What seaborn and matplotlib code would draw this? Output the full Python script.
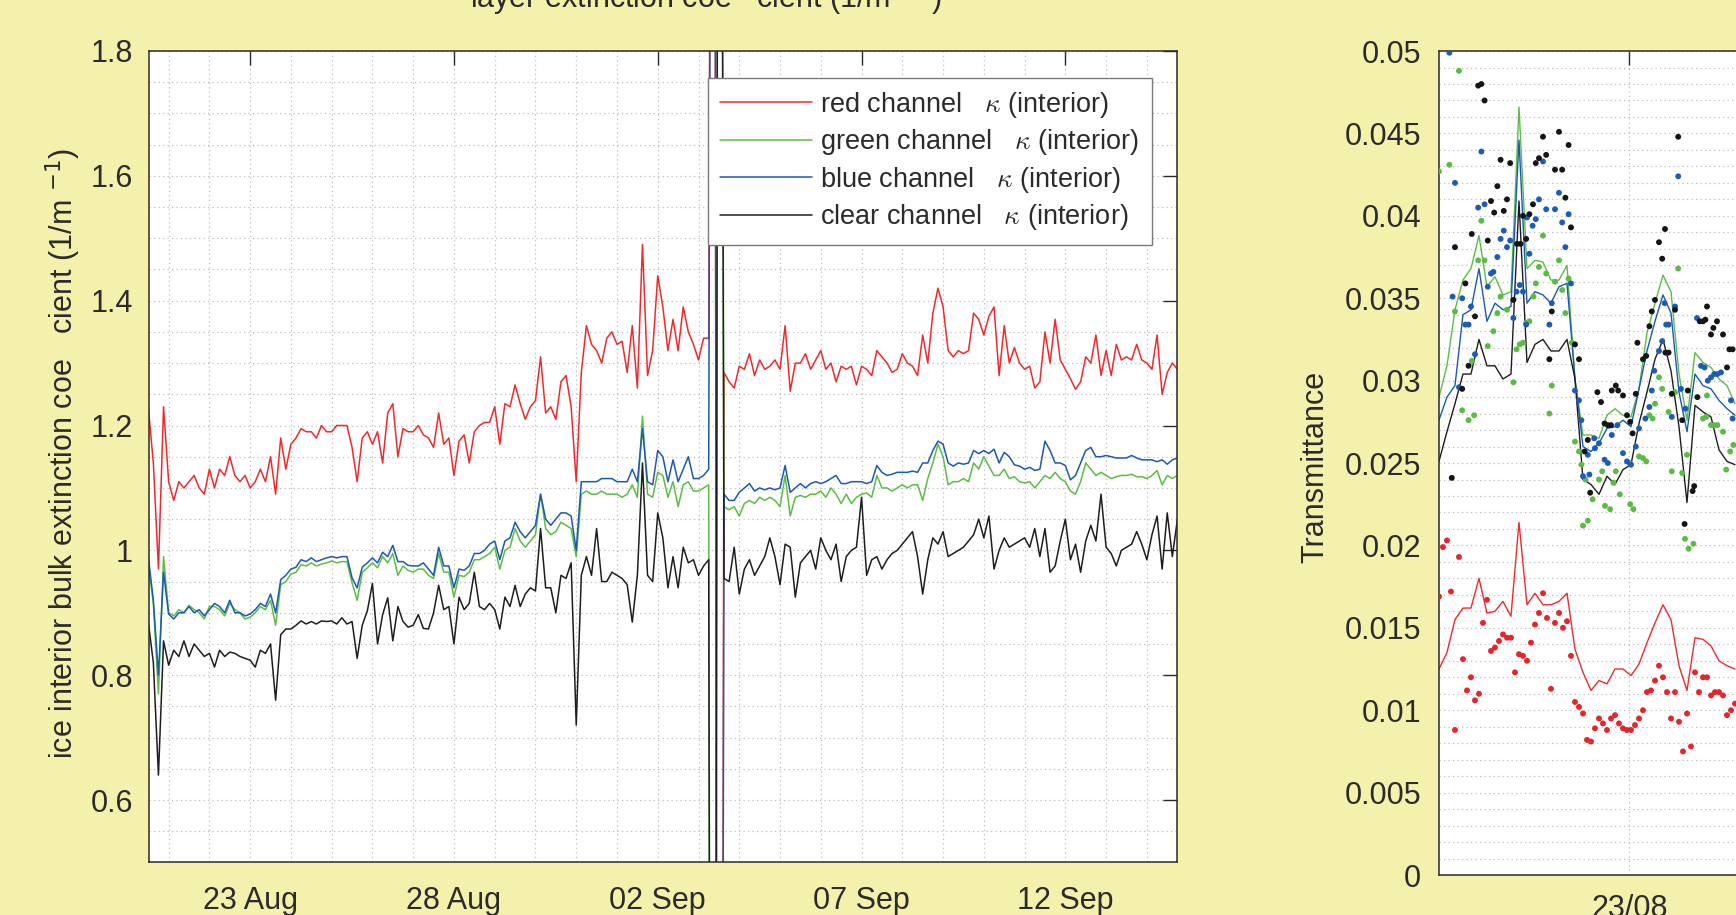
import numpy as np
import pandas as pd
import matplotlib
matplotlib.use("Agg")
import matplotlib.pyplot as plt
import matplotlib.dates as mdates
from matplotlib.ticker import MultipleLocator, FixedLocator, FuncFormatter, NullLocator
import seaborn as sns

# ------------------------------------------------------------------
# LEFT PANEL DATA : ice interior bulk extinction coefficient, 3-hourly
# ------------------------------------------------------------------
left_start = "2018-08-20 12:00"
left_step = "3h"

red_kappa = [
    1.23, 1.14, 0.97, 1.23,
    1.11, 1.08, 1.11, 1.10, 1.11, 1.12, 1.10, 1.09,
    1.13, 1.10, 1.13, 1.12, 1.15, 1.12, 1.11, 1.12,
    1.10, 1.11, 1.13, 1.11, 1.15, 1.09, 1.18, 1.13,
    1.17, 1.18, 1.195, 1.19, 1.19, 1.18, 1.20, 1.19,
    1.19, 1.20, 1.20, 1.20, 1.165, 1.11, 1.18, 1.19,
    1.17, 1.19, 1.14, 1.22, 1.235, 1.15, 1.195, 1.19,
    1.19, 1.20, 1.185, 1.18, 1.165, 1.22, 1.17, 1.18,
    1.12, 1.175, 1.185, 1.14, 1.19, 1.20, 1.205, 1.205,
    1.23, 1.17, 1.235, 1.23, 1.265, 1.235, 1.21, 1.23,
    1.24, 1.31, 1.22, 1.23, 1.21, 1.27, 1.28, 1.23,
    1.11, 1.285, 1.36, 1.33, 1.32, 1.30, 1.34, 1.35,
    1.33, 1.335, 1.285, 1.36, 1.26, 1.49, 1.28, 1.32,
    1.44, 1.39, 1.32, 1.37, 1.32, 1.39, 1.35, 1.33,
    1.305, 1.34, 1.34, 4.0, -3.0, 1.285, 1.27, 1.26,
    1.295, 1.29, 1.315, 1.28, 1.305, 1.29, 1.295, 1.305,
    1.29, 1.36, 1.255, 1.30, 1.30, 1.315, 1.29, 1.305,
    1.32, 1.29, 1.30, 1.27, 1.295, 1.29, 1.295, 1.265,
    1.295, 1.29, 1.28, 1.32, 1.31, 1.30, 1.285, 1.29,
    1.315, 1.30, 1.295, 1.28, 1.345, 1.30, 1.38, 1.42,
    1.39, 1.32, 1.31, 1.32, 1.315, 1.32, 1.38, 1.37,
    1.345, 1.375, 1.39, 1.28, 1.36, 1.30, 1.325, 1.30,
    1.29, 1.295, 1.26, 1.27, 1.35, 1.30, 1.37, 1.305,
    1.29, 1.275, 1.258, 1.27, 1.31, 1.30, 1.345, 1.28,
    1.32, 1.28, 1.33, 1.305, 1.31, 1.305, 1.33, 1.305,
    1.30, 1.29, 1.345, 1.25, 1.285, 1.30, 1.29,
]

green_kappa = [
    0.98, 0.915, 0.77, 0.99,
    0.90, 0.895, 0.905, 0.90, 0.912, 0.905, 0.90, 0.89,
    0.91, 0.91, 0.905, 0.895, 0.915, 0.905, 0.90, 0.89,
    0.893, 0.90, 0.91, 0.905, 0.92, 0.88, 0.945, 0.95,
    0.962, 0.965, 0.977, 0.975, 0.98, 0.975, 0.978, 0.98,
    0.983, 0.98, 0.982, 0.982, 0.948, 0.92, 0.965, 0.972,
    0.98, 0.972, 0.99, 0.98, 0.995, 0.96, 0.975, 0.968,
    0.965, 0.97, 0.97, 0.96, 0.955, 0.995, 0.965, 0.965,
    0.925, 0.96, 0.958, 0.965, 0.985, 0.985, 0.99, 0.995,
    1.005, 0.97, 1.0, 1.005, 1.035, 1.015, 1.005, 1.015,
    1.025, 1.09, 1.035, 1.025, 1.03, 1.045, 1.04, 1.035,
    0.99, 1.09, 1.095, 1.09, 1.09, 1.095, 1.09, 1.09,
    1.09, 1.085, 1.09, 1.105, 1.085, 1.215, 1.09, 1.085,
    1.125, 1.12, 1.085, 1.11, 1.07, 1.105, 1.11, 1.095,
    1.095, 1.10, 1.105, -3.0, 4.0, 1.07, 1.065, 1.07,
    1.055, 1.075, 1.08, 1.075, 1.085, 1.08, 1.085, 1.08,
    1.07, 1.12, 1.055, 1.085, 1.088, 1.085, 1.09, 1.09,
    1.095, 1.085, 1.10, 1.09, 1.075, 1.09, 1.075, 1.085,
    1.09, 1.092, 1.085, 1.12, 1.10, 1.10, 1.095, 1.10,
    1.105, 1.10, 1.105, 1.105, 1.08, 1.115, 1.14, 1.17,
    1.15, 1.105, 1.11, 1.11, 1.115, 1.11, 1.14, 1.13,
    1.15, 1.135, 1.12, 1.12, 1.13, 1.115, 1.118, 1.11,
    1.108, 1.11, 1.10, 1.11, 1.12, 1.115, 1.125, 1.115,
    1.11, 1.095, 1.09, 1.11, 1.14, 1.13, 1.12, 1.125,
    1.12, 1.115, 1.118, 1.12, 1.12, 1.122, 1.118, 1.118,
    1.115, 1.12, 1.128, 1.105, 1.12, 1.115, 1.12,
]

blue_kappa = [
    0.99, 0.92, 0.80, 0.965,
    0.898, 0.89, 0.90, 0.90, 0.91, 0.90, 0.905, 0.895,
    0.905, 0.915, 0.91, 0.90, 0.92, 0.90, 0.90, 0.895,
    0.898, 0.905, 0.915, 0.91, 0.93, 0.90, 0.953, 0.96,
    0.97, 0.973, 0.985, 0.982, 0.988, 0.982, 0.985, 0.988,
    0.99, 0.988, 0.99, 0.99, 0.956, 0.94, 0.973, 0.98,
    0.988, 0.98, 0.997, 0.99, 1.008, 0.982, 0.982, 0.976,
    0.975, 0.975, 0.98, 0.97, 0.96, 1.005, 0.975, 0.975,
    0.94, 0.97, 0.968, 0.975, 0.995, 0.995, 1.0, 1.01,
    1.015, 0.985, 1.015, 1.02, 1.045, 1.03, 1.02, 1.03,
    1.04, 1.09, 1.05, 1.04, 1.05, 1.06, 1.06, 1.055,
    1.0, 1.11, 1.11, 1.11, 1.11, 1.115, 1.115, 1.115,
    1.11, 1.11, 1.11, 1.13, 1.11, 1.195, 1.11, 1.105,
    1.16, 1.15, 1.11, 1.145, 1.11, 1.13, 1.15, 1.115,
    1.115, 1.12, 1.13, 4.0, -3.0, 1.09, 1.08, 1.08,
    1.093, 1.10, 1.107, 1.095, 1.10, 1.097, 1.10, 1.097,
    1.10, 1.136, 1.093, 1.10, 1.107, 1.10, 1.107, 1.11,
    1.107, 1.11, 1.115, 1.12, 1.107, 1.107, 1.11, 1.11,
    1.11, 1.107, 1.11, 1.136, 1.125, 1.12, 1.122, 1.125,
    1.125, 1.125, 1.127, 1.125, 1.14, 1.14, 1.16, 1.175,
    1.17, 1.14, 1.135, 1.14, 1.138, 1.14, 1.16, 1.155,
    1.16, 1.155, 1.162, 1.14, 1.157, 1.15, 1.137, 1.135,
    1.13, 1.133, 1.128, 1.13, 1.175, 1.16, 1.14, 1.14,
    1.136, 1.113, 1.12, 1.14, 1.16, 1.165, 1.15, 1.15,
    1.152, 1.15, 1.148, 1.148, 1.148, 1.152, 1.148, 1.145,
    1.145, 1.145, 1.142, 1.145, 1.138, 1.145, 1.148,
]

clear_kappa = [
    0.886, 0.82, 0.64, 0.855,
    0.816, 0.84, 0.83, 0.855, 0.83, 0.85, 0.84, 0.83,
    0.835, 0.813, 0.84, 0.83, 0.837, 0.835, 0.83, 0.827,
    0.824, 0.813, 0.84, 0.835, 0.85, 0.76, 0.865, 0.874,
    0.874, 0.88, 0.887, 0.882, 0.886, 0.882, 0.887, 0.886,
    0.887, 0.882, 0.892, 0.882, 0.886, 0.827, 0.88, 0.903,
    0.947, 0.85, 0.897, 0.924, 0.855, 0.91, 0.886, 0.877,
    0.88, 0.897, 0.875, 0.874, 0.90, 0.944, 0.905, 0.91,
    0.85, 0.925, 0.905, 0.915, 0.965, 0.91, 0.905, 0.915,
    0.905, 0.874, 0.925, 0.91, 0.944, 0.91, 0.93, 0.94,
    0.935, 1.035, 0.94, 0.94, 0.90, 0.96, 0.955, 0.98,
    0.72, 0.96, 0.99, 0.96, 1.035, 0.95, 0.95, 0.965,
    0.96, 0.955, 0.945, 0.885, 0.96, 1.14, 0.96, 0.95,
    1.06, 1.02, 0.94, 0.99, 0.94, 1.005, 0.98, 0.985,
    0.96, 0.975, 0.985, -3.0, 4.0, 0.955, 0.95, 1.005,
    0.93, 0.97, 0.985, 0.96, 0.975, 0.99, 1.02, 0.99,
    0.945, 1.01, 1.005, 0.925, 0.98, 0.99, 1.0, 0.97,
    1.02, 1.0, 0.985, 1.01, 0.95, 0.99, 1.0, 1.005,
    1.085, 0.96, 0.985, 0.99, 0.97, 0.985, 0.995, 1.0,
    1.01, 1.02, 1.03, 0.99, 0.93, 0.985, 1.02, 1.01,
    1.03, 0.99, 0.995, 1.0, 1.005, 1.015, 1.025, 1.05,
    1.02, 1.055, 0.97, 1.0, 1.02, 1.005, 1.01, 1.015,
    1.02, 1.005, 1.035, 0.99, 1.035, 0.965, 0.975, 1.015,
    1.05, 0.985, 1.01, 0.965, 1.015, 1.04, 1.015, 1.09,
    1.005, 0.995, 0.975, 1.0, 1.005, 1.01, 1.03, 1.01,
    0.985, 1.025, 1.055, 0.97, 1.06, 0.99, 1.05,
]

left_labels = [
    r"red channel   $\kappa$ (interior)",
    r"green channel   $\kappa$ (interior)",
    r"blue channel   $\kappa$ (interior)",
    r"clear channel   $\kappa$ (interior)",
]
left_xticks = ["2018-08-23", "2018-08-28", "2018-09-02", "2018-09-07", "2018-09-12"]
left_xlim = ["2018-08-20 12:43", "2018-09-14 17:45"]
left_ylim = [0.5, 1.8]

# ------------------------------------------------------------------
# RIGHT PANEL DATA : transmittance, hourly lines and measured dots
# ------------------------------------------------------------------
right_start = "2018-08-22 00:12"
right_xticks = ["2018-08-23"]
red_T_line = [.0125, .0135, .0155, .0162, .0162, .018, .0159, .016, .0166, .0157,
              .0214, .0164, .0171, .0164, .0164, .0166, .0171, .0137, .0123, .0112,
              .0118, .0116, .0125, .0125, .0121, .0128, .0141, .0153, .0164, .0155,
              .0127, .0112, .0144, .0143, .0139, .013, .0127, .0125]
green_T_line = [.029, .0309, .0343, .0361, .0368, .0388, .0357, .0363, .0352, .0354,
                .0466, .0368, .0373, .0372, .0361, .0361, .037, .0301, .0267, .0267,
                .0265, .0279, .0283, .0279, .0278, .0295, .0329, .0347, .0364, .0354,
                .0304, .0276, .0317, .0311, .0308, .0301, .0297, .0286]
blue_T_line = [.0276, .029, .0297, .034, .0343, .0368, .0336, .0347, .0343, .0345,
               .0446, .0347, .0354, .0352, .0347, .0357, .0359, .0301, .026, .0257,
               .0262, .0271, .0272, .0276, .0272, .0295, .0318, .0336, .0352, .0341,
               .0293, .0269, .0304, .0297, .0295, .0288, .0283, .0279]
clear_T_line = [.0251, .0269, .0286, .0304, .0304, .0325, .0309, .0309, .0301, .0304,
                .0409, .0311, .0322, .0325, .0318, .0318, .0325, .0301, .024, .0237,
                .0231, .0242, .0237, .0246, .0249, .0274, .0293, .0313, .0325, .0306,
                .0272, .0226, .0285, .0281, .0278, .0258, .0251, .0249]

red_T_dots = [.0169, .0199, .0203, .0172, .0088, .0193, .0131, .0112, .0120, .0106,
              .0110, .0153, .0167, .0136, .0138, .0142, .0146, .0144, .0144, .0123,
              .0134, .0133, .0130, .0141, .0152, .0159, .0171, .0156, .0113, .0153,
              .0159, .0150, .0154, .0133, .0105, .0102, .0098, .0082, .0081, .0089,
              .0095, .0092, .0088, .0095, .0097, .0092, .0089, .0088, .0088, .0091,
              .0095, .0100, .0111, .0112, .0118, .0127, .0120, .0111, .0095, .0111,
              .0093, .0075, .0098, .0078, .0123, .0111, .0120, .0120, .0109, .0111,
              .0111, .0109, .0097, .0100, .0104]
red_T_dot_hours = [0.5 * k for k in range(len(red_T_dots))]

green_T_dot_hours = [0.0, 1.3, 2.0, 2.5, 2.9, 3.7, 4.1, 4.4, 4.9, 5.3, 5.7, 6.1, 6.8, 7.3,
                     7.7, 8.5, 9.3, 9.7, 10.1, 10.5, 10.9, 11.3, 11.8, 12.1, 12.5, 13.0,
                     13.4, 13.8, 14.1, 14.5, 15.0, 15.4, 15.8, 16.2, 16.6, 17.0, 17.5,
                     17.8, 18.0, 18.3, 18.6, 19.2, 20.0, 20.4, 20.75, 21.4, 21.8, 22.1,
                     22.6, 23.8, 23.9, 24.3, 25.0, 25.5, 25.9, 26.3, 26.7, 27.0, 27.5,
                     27.9, 28.7, 29.1, 29.5, 29.9, 30.4, 30.75, 31.0, 31.2, 31.8, 33.0,
                     33.4, 33.5, 34.0, 34.4, 34.8, 35.5, 35.9, 36.4, 36.8]
green_T_dots = [.0427, .0431, .0342, .0488, .0282, .0276, .0312, .0279, .0373, .0397,
                .0373, .0321, .0330, .0341, .0351, .0343, .0299, .0319, .0322, .0323,
                .0335, .0336, .0351, .0359, .0369, .0388, .0365, .0280, .0297, .0360,
                .0373, .0355, .0341, .0362, .0323, .0263, .0257, .0249, .0212, .0240,
                .0215, .0228, .0240, .0245, .0224, .0222, .0238, .0245, .0231, .0250,
                .0225, .0222, .0254, .0253, .0251, .0279, .0277, .0286, .0302, .0295,
                .0281, .0245, .0293, .0368, .0244, .0204, .0255, .0198, .0201, .0277,
                .0278, .0291, .0273, .0273, .0273, .0269, .0246, .0257, .0261]

blue_T_dot_hours = [1.3, 1.7, 2.0, 2.5, 2.9, 3.3, 3.7, 4.0, 4.5, 4.9, 5.3, 5.7, 6.1, 6.5,
                    6.8, 7.3, 7.7, 8.1, 8.5, 8.9, 9.3, 9.7, 10.1, 10.5, 10.9, 11.0, 11.3,
                    11.7, 12.1, 12.5, 13.0, 13.4, 13.8, 14.1, 14.5, 15.0, 15.4, 15.8,
                    16.2, 16.5, 17.0, 17.5, 17.8, 18.0, 18.6, 18.8, 19.4, 19.5, 20.0,
                    20.7, 21.1, 21.6, 22.3, 23.0, 23.5, 24.0, 24.6, 25.0, 25.8, 26.3,
                    26.6, 26.9, 27.5, 27.9, 28.2, 28.4, 28.7, 29.1, 29.5, 29.9, 30.25,
                    30.8, 32.25, 32.75, 33.2, 33.6, 34.0, 34.4, 34.8, 35.25, 36.5, 36.7]
blue_T_dots = [.0499, .0351, .0420, .0296, .0350, .0334, .0334, .0345, .0316, .0405,
               .0439, .0407, .0357, .0365, .0366, .0375, .0386, .0391, .0381, .0385,
               .0338, .0354, .0358, .0354, .0334, .0399, .0377, .0394, .0398, .0410,
               .0433, .0404, .0334, .0347, .0404, .0414, .0396, .0381, .0401, .0359,
               .0294, .0288, .0276, .0242, .0255, .0243, .0265, .0259, .0262, .0252,
               .0250, .0267, .0273, .0256, .0251, .0249, .0260, .0271, .0277, .0284,
               .0294, .0306, .0318, .0324, .0347, .0334, .0334, .0278, .0345, .0424,
               .0295, .0283, .0338, .0309, .0308, .0300, .0302, .0304, .0304, .0305,
               .0288, .0277]

clear_T_dot_hours = [1.6, 2.0, 2.9, 3.3, 3.7, 4.1, 4.5, 4.9, 5.3, 5.7, 6.1, 6.5, 6.9, 7.3,
                     7.7, 8.1, 8.5, 8.9, 9.3, 9.75, 10.2, 10.5, 10.9, 11.3, 11.75, 12.1,
                     12.5, 13.0, 13.4, 13.8, 14.1, 14.5, 15.0, 15.4, 15.8, 16.2, 16.5,
                     17.0, 17.5, 18.2, 18.6, 18.9, 19.8, 20.25, 20.7, 21.1, 21.5, 21.6,
                     22.1, 22.4, 23.0, 23.5, 23.9, 24.2, 24.6, 24.8, 25.5, 25.9, 26.3,
                     26.6, 27.0, 27.5, 27.9, 28.25, 28.3, 28.7, 29.1, 29.5, 29.9, 30.4,
                     30.7, 31.1, 31.7, 31.9, 32.3, 32.6, 33.0, 33.3, 33.5, 34.0, 34.3,
                     34.75, 35.5, 36.0, 36.3, 36.7]
clear_T_dots = [.0241, .0381, .0295, .0359, .0309, .0389, .0339, .0479, .0480, .0470,
                .0385, .0409, .0402, .0418, .0434, .0403, .0410, .0432, .0349, .0383,
                .0383, .0400, .0386, .0401, .0407, .0432, .0435, .0448, .0437, .0313,
                .0342, .0428, .0451, .0428, .0411, .0443, .0393, .0322, .0313, .0257,
                .0264, .0232, .0293, .0287, .0274, .0273, .0273, .0294, .0297, .0294,
                .0291, .0279, .0275, .0268, .0292, .0323, .0313, .0315, .0333, .0342,
                .0349, .0384, .0374, .0392, .0317, .0317, .0292, .0343, .0448, .0276,
                .0213, .0294, .0233, .0236, .0290, .0336, .0336, .0337, .0345, .0328,
                .0332, .0336, .0328, .0308, .0319, .0319]

right_channels = ["red", "green", "blue", "clear"]
right_xlim_hours = [0.0, 80.5]
right_ylim = [0.0, 0.05]

# ------------------------------------------------------------------
# STYLE
# ------------------------------------------------------------------
BG = "#f4f1ad"
TXT = "#2b2b2b"
GRID = "#bdbdbd"
line_colors = ["#ee2b2b", "#5cbd45", "#1b59b3", "#1e1e1e"]
dot_colors = ["#e8232a", "#5cbb44", "#1c5cb7", "#151515"]

sns.set_theme(style="white")
plt.rcParams["font.family"] = ["Liberation Sans", "DejaVu Sans"]
plt.rcParams["text.color"] = TXT
plt.rcParams["axes.labelcolor"] = TXT
plt.rcParams["xtick.color"] = TXT
plt.rcParams["ytick.color"] = TXT

fig = plt.figure(figsize=(17.36, 9.15), dpi=100, facecolor=BG)
ax = fig.add_axes([0.0861, 0.0574, 0.5919, 0.8869])
ax2 = fig.add_axes([0.8289, 0.0437, 0.3710, 0.9005])

# ----------------------------- left panel -------------------------
frames = []
for lab, vals in zip(left_labels, [red_kappa, green_kappa, blue_kappa, clear_kappa]):
    t = pd.date_range(left_start, periods=len(vals), freq=left_step)
    frames.append(pd.DataFrame({"time": t, "kappa": vals, "channel": lab}))
left_df = pd.concat(frames, ignore_index=True)

sns.lineplot(data=left_df, x="time", y="kappa", hue="channel", hue_order=left_labels,
             palette=dict(zip(left_labels, line_colors)), linewidth=1.1,
             estimator=None, sort=False, ax=ax)

ax.set_xlim(pd.Timestamp(left_xlim[0]), pd.Timestamp(left_xlim[1]))
ax.set_ylim(*left_ylim)
ax.set_xlabel("")
ax.set_ylabel("")
ax.set_facecolor("white")
ax.xaxis.set_major_locator(FixedLocator(mdates.date2num(pd.to_datetime(left_xticks))))
ax.xaxis.set_major_formatter(mdates.DateFormatter("%d %b"))
ax.xaxis.set_minor_locator(mdates.DayLocator())
ax.yaxis.set_major_locator(MultipleLocator(0.2))
ax.yaxis.set_minor_locator(MultipleLocator(0.05))
ax.yaxis.set_major_formatter(FuncFormatter(lambda v, p: "%g" % round(v, 3)))

for a in (ax, ax2):
    a.grid(which="major", linestyle=(0, (1, 2.6)), color=GRID, linewidth=0.9)
    for s in a.spines.values():
        s.set_color(TXT)
        s.set_linewidth(1.1)
    a.tick_params(which="major", direction="in", length=10, width=1.0, top=True,
                  right=True, labelsize=22, colors=TXT)
    a.tick_params(which="minor", length=0)
    a.set_axisbelow(True)
ax.grid(which="minor", linestyle=(0, (1, 2.6)), color=GRID, linewidth=0.9)
ax.tick_params(axis="x", pad=17)
ax.tick_params(axis="y", pad=12)

h, l = ax.get_legend_handles_labels()
leg = ax.legend(h, l, loc="upper right", bbox_to_anchor=(0.9752, 0.9673),
                borderaxespad=0, fontsize=19.5, frameon=True, fancybox=False,
                framealpha=1, edgecolor="#7a7a7a", handlelength=3.4,
                handletextpad=0.3, labelspacing=0.28, borderpad=0.45)
leg.get_frame().set_linewidth(1.0)
for txt in leg.get_texts():
    txt.set_math_fontfamily("cm")
    txt.set_color(TXT)
for lh in leg.get_lines():
    lh.set_linewidth(1.1)

fig.text(63 / 1736, 1 - 454 / 915,
         r"ice interior bulk extinction coe   cient (1/m $^{-1}$)",
         rotation=90, ha="center", va="center", fontsize=22, color=TXT)
fig.text(706 / 1736, 1 - 8 / 915,
         r"layer extinction coe   cient (1/m $^{-1}$)",
         ha="center", va="baseline", fontsize=22, color=TXT)

# ----------------------------- right panel ------------------------
base = pd.Timestamp(right_start)
lf, df_ = [], []
for ch, vals in zip(right_channels, [red_T_line, green_T_line, blue_T_line, clear_T_line]):
    lf.append(pd.DataFrame({"time": base + pd.to_timedelta(np.arange(len(vals)), unit="h"),
                            "T": vals, "ch": ch}))
for ch, hrs, vals in zip(right_channels,
                         [red_T_dot_hours, green_T_dot_hours, blue_T_dot_hours, clear_T_dot_hours],
                         [red_T_dots, green_T_dots, blue_T_dots, clear_T_dots]):
    n = min(len(hrs), len(vals))
    df_.append(pd.DataFrame({"time": base + pd.to_timedelta(np.array(hrs[:n]), unit="h"),
                             "T": vals[:n], "ch": ch}))
rline = pd.concat(lf, ignore_index=True)
rdots = pd.concat(df_, ignore_index=True)

sns.lineplot(data=rline, x="time", y="T", hue="ch", hue_order=right_channels,
             palette=dict(zip(right_channels, line_colors)), linewidth=1.0,
             estimator=None, sort=False, legend=False, ax=ax2)
sns.scatterplot(data=rdots, x="time", y="T", hue="ch", hue_order=right_channels,
                palette=dict(zip(right_channels, dot_colors)), s=18, linewidth=0,
                legend=False, ax=ax2, zorder=3)

ax2.set_xlim(base + pd.Timedelta(hours=right_xlim_hours[0]),
             base + pd.Timedelta(hours=right_xlim_hours[1]))
ax2.set_ylim(*right_ylim)
ax2.set_xlabel("")
ax2.set_ylabel("")
ax2.set_facecolor("white")
ax2.xaxis.set_major_locator(FixedLocator(mdates.date2num(pd.to_datetime(right_xticks))))
ax2.xaxis.set_major_formatter(mdates.DateFormatter("%d/%m"))
ax2.xaxis.set_minor_locator(NullLocator())
ax2.yaxis.set_major_locator(MultipleLocator(0.005))
ax2.yaxis.set_minor_locator(MultipleLocator(0.001))
ax2.yaxis.set_major_formatter(FuncFormatter(lambda v, p: "%g" % round(v, 4)))
ax2.grid(which="minor", axis="y", linestyle=(0, (1, 2.6)), color=GRID, linewidth=0.9)
ax2.tick_params(axis="x", pad=14)
ax2.tick_params(axis="y", pad=13)

fig.text(1315 / 1736, 1 - 467 / 915, "Transmittance", rotation=90,
         ha="center", va="center", fontsize=22, color=TXT)

fig.savefig("out.png", dpi=100, facecolor=BG)
